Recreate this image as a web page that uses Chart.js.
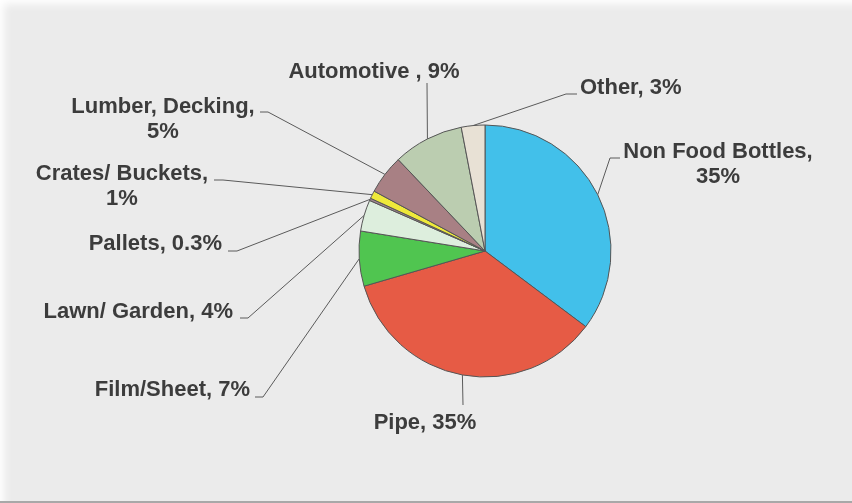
<!DOCTYPE html>
<html>
<head>
<meta charset="utf-8">
<script src="https://cdn.jsdelivr.net/npm/chart.js@4/dist/chart.umd.min.js"></script>
<style>
html,body{margin:0;padding:0;background:#ebebeb;}
#wrap{position:relative;width:852px;height:501px;background:#ebebeb;border-bottom:2px solid #a8a8a8;box-shadow:inset 7px 7px 8px -3px #ffffff;overflow:hidden;}
canvas{position:absolute;left:0;top:0;}
</style>
</head>
<body>
<div id="wrap"><canvas id="c" width="852" height="503"></canvas></div>
<script>
// ---- data ----
const categories = ["Non Food Bottles", "Pipe", "Film/Sheet", "Lawn/ Garden", "Pallets", "Crates/ Buckets", "Lumber, Decking", "Automotive", "Other"];
const shares = [35, 35, 7, 4, 0.3, 1, 5, 9, 3];
const labelTexts = [
  ["Non Food Bottles,", "35%"],
  ["Pipe, 35%"],
  ["Film/Sheet, 7%"],
  ["Lawn/ Garden, 4%"],
  ["Pallets, 0.3%"],
  ["Crates/ Buckets,", "1%"],
  ["Lumber, Decking,", "5%"],
  ["Automotive , 9%"],
  ["Other, 3%"]
];
const sliceColors = ["#42c0ea", "#e65b45", "#50c550", "#ddeedd", "#a08590", "#eee93a", "#a88084", "#bbcdb0", "#e8e1d5"];

// ---- label layout (positions of label text and leader elbows) ----
const labelLayout = [
  {x: 718, y: 152, align: "center", path: [[610, 158], [620, 158]]},
  {x: 425, y: 423, align: "center", path: [[463, 405]]},
  {x: 250, y: 390, align: "right", path: [[263, 397], [255, 397]]},
  {x: 233, y: 312, align: "right", path: [[248, 318], [240, 318]]},
  {x: 222, y: 244, align: "right", path: [[237, 251], [228, 251]]},
  {x: 122, y: 174, align: "center", path: [[223, 180], [214, 180]]},
  {x: 163, y: 107, align: "center", path: [[268, 112], [260, 112]]},
  {x: 374, y: 72, align: "center", path: [[427, 83]]},
  {x: 580, y: 88, align: "left", path: [[566, 94], [577, 94]]}
];

const leaderPlugin = {
  id: "leaders",
  afterDatasetsDraw(chart) {
    const ctx = chart.ctx;
    const meta = chart.getDatasetMeta(0);
    ctx.save();
    meta.data.forEach((arc, i) => {
      const p = arc.getProps(["x", "y", "startAngle", "endAngle", "outerRadius"], true);
      const mid = (p.startAngle + p.endAngle) / 2;
      const sx = p.x + Math.cos(mid) * p.outerRadius;
      const sy = p.y + Math.sin(mid) * p.outerRadius;
      const lay = labelLayout[i];
      ctx.strokeStyle = "#5a5a5a";
      ctx.lineWidth = 1;
      ctx.beginPath();
      ctx.moveTo(sx, sy);
      lay.path.forEach(pt => ctx.lineTo(pt[0], pt[1]));
      ctx.stroke();
      ctx.fillStyle = "#3c3c3c";
      ctx.font = "bold 22px 'Liberation Sans', Arial, sans-serif";
      ctx.textBaseline = "middle";
      ctx.textAlign = lay.align;
      labelTexts[i].forEach((t, k) => {
        ctx.fillText(t, lay.x, lay.y + k * 25);
      });
    });
    ctx.restore();
  }
};

new Chart(document.getElementById("c"), {
  type: "pie",
  data: {
    labels: categories,
    datasets: [{
      data: shares,
      backgroundColor: sliceColors,
      borderColor: "#555555",
      borderWidth: 1
    }]
  },
  options: {
    responsive: false,
    animation: false,
    devicePixelRatio: 1,
    radius: 126,
    layout: {padding: {left: 359, right: 241, top: 125, bottom: 126}},
    plugins: {legend: {display: false}, tooltip: {enabled: false}}
  },
  plugins: [leaderPlugin]
});
</script>
</body>
</html>
